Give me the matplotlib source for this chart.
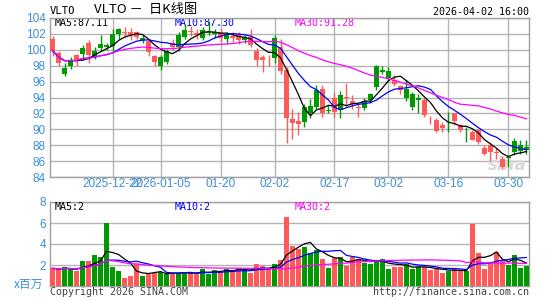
import numpy as np
import pandas as pd
import matplotlib
matplotlib.use("Agg")
import matplotlib.pyplot as plt

# daily OHLC (2025-12-08 .. 2026-04-02)
opens = [101.3, 99.6, 96.9, 98.0, 99.4, 99.5, 100.8, 99.1, 100.2, 100.4,
         100.5, 102.0, 102.3, 102.3, 102.2, 101.2, 101.1, 99.2, 98.0, 98.5,
         100.9, 100.3, 101.6, 102.4, 102.1, 101.5, 102.1, 102.0, 102.2, 101.4,
         101.7, 102.0, 101.2, 101.6, 99.9, 99.1, 98.9, 99.0, 100.3, 97.4,
         91.3, 91.0, 90.9, 92.0, 92.8, 95.1, 92.3, 93.9, 92.4, 94.1,
         93.6, 92.8, 92.7, 93.7, 95.3, 97.2, 96.5, 96.2, 95.4, 94.0,
         92.8, 93.7, 93.7, 91.6, 91.2, 90.6, 91.0, 92.0, 90.5, 89.6,
         89.7, 89.9, 87.6, 88.0, 87.1, 86.3, 86.4, 87.2, 87.3, 87.4]
highs = [101.7, 99.8, 98.4, 99.1, 99.5, 100.6, 101.2, 100.4, 101.8, 100.9,
         102.6, 102.8, 102.9, 102.7, 102.4, 101.8, 101.4, 99.3, 99.4, 100.1,
         101.3, 102.2, 103.2, 103.0, 102.6, 102.9, 103.6, 102.6, 102.6, 102.3,
         102.2, 102.3, 101.9, 102.6, 100.2, 99.3, 99.4, 101.8, 101.4, 97.8,
         92.5, 92.2, 93.2, 93.8, 95.6, 95.6, 93.1, 94.6, 94.8, 95.8,
         94.3, 93.2, 93.9, 94.6, 98.1, 97.9, 97.8, 96.8, 95.6, 96.2,
         94.7, 94.4, 94.0, 91.7, 91.4, 90.9, 92.2, 92.1, 90.7, 90.3,
         89.9, 90.1, 88.0, 88.4, 87.6, 86.6, 86.7, 88.9, 88.6, 88.7]
lows = [99.25, 98.0, 96.75, 97.6, 98.0, 98.75, 98.4, 98.9, 99.9, 100.0,
        99.9, 101.4, 101.6, 101.2, 101.3, 100.9, 99.2, 98.0, 97.4, 98.2,
        100.0, 99.9, 101.3, 101.7, 101.3, 101.2, 101.8, 101.5, 101.0, 100.75,
        101.0, 100.7, 100.9, 100.3, 98.0, 97.2, 98.0, 98.4, 97.0, 88.3,
        88.8, 89.3, 90.3, 91.4, 92.6, 91.5, 92.0, 91.5, 91.4, 92.8,
        92.6, 91.5, 92.4, 93.3, 95.0, 96.9, 95.9, 95.5, 94.5, 93.6,
        92.4, 92.0, 91.5, 90.7, 89.7, 89.6, 89.7, 90.5, 89.6, 88.4,
        88.6, 88.1, 86.8, 86.0, 86.3, 85.0, 85.3, 86.8, 86.9, 86.9]
closes = [99.9, 98.3, 97.7, 98.7, 98.6, 100.2, 99.3, 99.9, 100.7, 100.6,
          102.0, 102.6, 102.1, 101.8, 101.6, 101.5, 99.75, 98.45, 99.1, 99.9,
          100.4, 101.8, 102.5, 102.2, 101.9, 102.5, 102.3, 102.2, 101.5, 102.0,
          101.5, 101.2, 101.6, 100.6, 98.7, 98.7, 98.8, 101.5, 97.3, 91.4,
          90.8, 90.7, 92.8, 92.9, 95.0, 92.0, 92.4, 92.2, 94.3, 94.0,
          93.2, 92.7, 93.5, 94.4, 98.0, 97.4, 97.3, 95.7, 95.0, 95.1,
          94.5, 93.9, 91.8, 91.5, 89.8, 90.2, 91.1, 91.0, 89.9, 89.7,
          88.6, 88.4, 86.9, 87.2, 87.0, 85.2, 86.5, 88.5, 88.0, 87.8]
# volume in millions
volumes = [1.68, 1.59, 1.78, 1.59, 1.43, 2.38, 2.38, 2.95, 2.79, 6.03,
           1.78, 1.46, 0.79, 0.95, 2.10, 0.95, 1.14, 1.27, 1.37, 1.14,
           1.21, 1.21, 1.37, 1.21, 1.21, 1.62, 1.14, 1.52, 1.46, 1.62,
           1.52, 1.68, 1.52, 1.27, 2.10, 1.90, 1.68, 2.10, 2.48, 6.60,
           3.81, 3.52, 3.71, 3.10, 3.43, 2.57, 1.75, 2.63, 2.73, 1.90,
           2.79, 2.57, 2.22, 2.10, 2.41, 2.54, 1.62, 1.78, 1.84, 2.10,
           1.62, 1.78, 1.78, 1.52, 1.62, 1.27, 1.43, 1.62, 1.52, 1.46,
           5.90, 3.17, 1.62, 2.32, 3.20, 2.41, 2.00, 2.95, 1.68, 1.90]

tick_idx = [10, 18, 28, 37, 47, 56, 66, 76]
tick_labels = ["2025-12-22", "2026-01-05", "01-20", "02-02", "02-17", "03-02", "03-16", "03-30"]
price_ticks = list(range(84, 105, 2))
vol_ticks = [2, 4, 6, 8]

W, H = 545, 300
RED = "#ff5a5a"
GREEN = "#009a00"
GRID = "#b4b4b4"
TICK = "#3a8fd8"
MONO = "DejaVu Sans Mono"

o = np.array(opens); h = np.array(highs); l = np.array(lows); c = np.array(closes)
v = np.array(volumes)
x = np.arange(len(c))
up = c >= o
cols = np.where(up, GREEN, RED)

ma5 = pd.Series(c).rolling(5, min_periods=1).mean()
ma10 = pd.Series(c).rolling(10, min_periods=1).mean()
ma30 = pd.Series(c).rolling(30, min_periods=1).mean()
vma5 = pd.Series(v).rolling(5, min_periods=1).mean()
vma10 = pd.Series(v).rolling(10, min_periods=1).mean()
vma30 = pd.Series(v).rolling(30, min_periods=1).mean()

fig = plt.figure(figsize=(W / 100, H / 100), dpi=100)
ax = fig.add_axes([50 / W, 1 - 177 / H, 479 / W, 159 / H])
axv = fig.add_axes([50 / W, 1 - 286 / H, 479 / W, 84 / H])

for a in (ax, axv):
    a.set_xlim(-0.42, len(c) - 0.58)
    for s in a.spines.values():
        s.set_color("#a0a0a0")
        s.set_linewidth(1)
    a.tick_params(length=0, colors=TICK, labelsize=8.5, pad=3)
    for lab in a.get_xticklabels() + a.get_yticklabels():
        lab.set_family("Liberation Sans")

# price panel
ax.set_ylim(84, 104)
ax.set_yticks(price_ticks)
ax.set_yticklabels([str(t) for t in price_ticks], family="Liberation Sans")
ax.set_xticks(tick_idx)
ax.set_xticklabels(tick_labels, family="Liberation Sans")
ax.tick_params(axis="x", pad=1)
ax.grid(True, color=GRID, linewidth=1)
ax.set_axisbelow(True)

ax.text(5 / 479, 1 - 5 / 159, "MA5:87.11", transform=ax.transAxes, family=MONO,
        fontsize=7.2, color="black", va="center", zorder=1)
ax.text(125 / 479, 1 - 5 / 159, "MA10:87.30", transform=ax.transAxes, family=MONO,
        fontsize=7.2, color="#0000ee", va="center", zorder=1)
ax.text(245 / 479, 1 - 5 / 159, "MA30:91.28", transform=ax.transAxes, family=MONO,
        fontsize=7.2, color="#ff00ff", va="center", zorder=1)
ax.text(0.995, 0.02, "sina", transform=ax.transAxes, fontsize=12, style="italic",
        fontweight="bold", color="#d8d8d8", ha="right", va="bottom", zorder=1)

ax.vlines(x, l, h, colors=cols, linewidth=1, zorder=3)
body = np.maximum(np.abs(c - o), 0.08)
ax.bar(x, body, bottom=np.minimum(o, c), width=0.78, color=cols, linewidth=0, zorder=4)
ax.plot(x, ma5, color="black", linewidth=0.9, zorder=5)
ax.plot(x, ma10, color="#0000ff", linewidth=0.9, zorder=5)
ax.plot(x, ma30, color="#ff00ff", linewidth=0.9, zorder=5)

# volume panel
axv.set_ylim(0, 8)
axv.set_yticks(vol_ticks)
axv.set_yticklabels([str(t) for t in vol_ticks], family="Liberation Sans")
axv.set_xticks([])
axv.grid(True, axis="y", color=GRID, linewidth=1)
axv.set_axisbelow(True)
axv.bar(x, v, width=0.8, color=cols, linewidth=0, zorder=3)
axv.plot(x, vma5, color="black", linewidth=0.9, zorder=4)
axv.plot(x, vma10, color="#0000ff", linewidth=0.9, zorder=4)
axv.plot(x, vma30, color="#ff00ff", linewidth=0.9, zorder=4)
axv.text(5 / 479, 1 - 5 / 84, "MA5:2", transform=axv.transAxes, family=MONO,
         fontsize=7.2, color="black", va="center")
axv.text(125 / 479, 1 - 5 / 84, "MA10:2", transform=axv.transAxes, family=MONO,
         fontsize=7.2, color="#0000ee", va="center")
axv.text(245 / 479, 1 - 5 / 84, "MA30:2", transform=axv.transAxes, family=MONO,
         fontsize=7.2, color="#ff00ff", va="center")

# header / footer texts
fig.text(50 / W, 1 - 11 / H, "VLTO", family=MONO, fontsize=7.6, color="black", va="center")
fig.text(146 / W, 1 - 10 / H, "VLTO －  日K线图", family=["Noto Sans CJK SC", "DejaVu Sans"],
         fontsize=9.5, color="black", ha="center", va="center")
fig.text(529 / W, 1 - 12 / H, "2026-04-02 16:00", family=MONO, fontsize=7.2,
         color="black", ha="right", va="center")
fig.text(43 / W, 1 - 284 / H, "x百万", family=["Noto Sans CJK SC", "DejaVu Sans"],
         fontsize=8.5, color=TICK, ha="right", va="center")
fig.text(50 / W, 1 - 292 / H, "Copyright 2026 SINA.COM", family=MONO, fontsize=7.2,
         color="#444444", va="center")
fig.text(529 / W, 1 - 292 / H, "http://finance.sina.com.cn", family=MONO, fontsize=7.2,
         color="#444444", ha="right", va="center")

fig.savefig("out.png", dpi=100)
